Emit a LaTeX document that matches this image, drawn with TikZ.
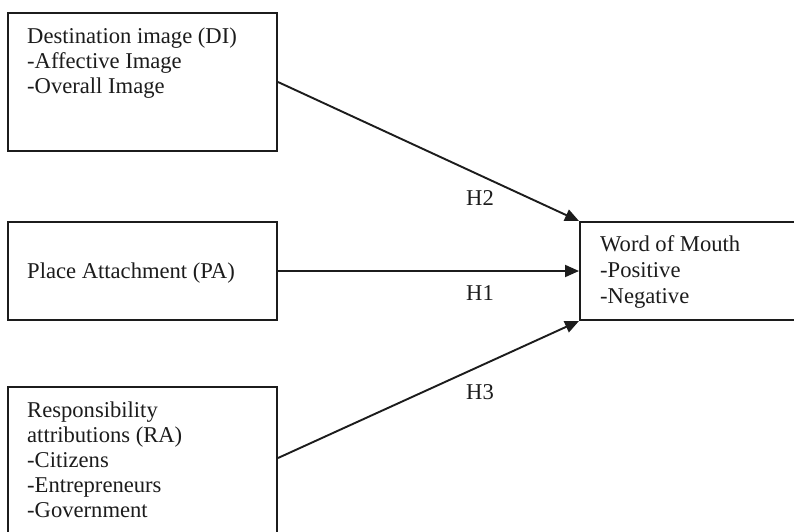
\documentclass[tikz,border=0pt]{standalone}
\usepackage{fontspec}
\setmainfont{Liberation Serif}
\usetikzlibrary{arrows.meta}
\definecolor{ink}{HTML}{1C1C1C}
\tikzset{
  box/.style={draw=ink, line width=2pt, fill=white, inner sep=0pt, anchor=north west},
  txt/.style={inner sep=0pt, anchor=north west, align=left, text=ink, font=\fontsize{22.6}{25}\selectfont},
  hlab/.style={inner sep=0pt, anchor=base, text=ink, font=\fontsize{22.6}{25}\selectfont},
  link/.style={draw=ink, line width=1.9pt, -{Triangle[length=14pt,width=12pt]}}
}
\newcommand{\firstline}{\rule{0pt}{18pt}}
\begin{document}
\begin{tikzpicture}[x=1pt,y=-1pt]
\useasboundingbox (0,0) rectangle (794,532);
\clip (0,0) rectangle (794,532);
\fill[white] (0,0) rectangle (794,532);
% boxes
\node[box, minimum width=269pt, minimum height=138pt] (di) at (7,12) {};
\node[box, minimum width=269pt, minimum height=98pt] (pa) at (7,221) {};
\node[box, minimum width=269pt, minimum height=150pt] (ra) at (7,386) {};
\node[box, minimum width=240pt, minimum height=98pt] (wom) at (579,221) {};
% texts
\node[txt] (ditxt) at (27,25.5) {\firstline Destination image (DI)\\-Affective Image\\-Overall Image};
\node[txt] (patxt) at (27,260) {\firstline Place Attachment (PA)};
\node[txt] (ratxt) at (27,399) {\firstline Responsibility\\attributions (RA)\\-Citizens\\-Entrepreneurs\\-Government};
\node[txt, font=\fontsize{22.6}{26}\selectfont] (womtxt) at (600,233) {\firstline Word of Mouth\\-Positive\\-Negative};
% connectors
\coordinate (raout) at ([yshift=-72pt]ra.north east);
\draw[link] (di.east) -- (wom.north west);
\draw[link] (pa.east) -- (wom.west);
\draw[link] (raout) -- (wom.south west);
% labels
\node[hlab] (h2) at (480,205) {H2};
\node[hlab] (h1) at (480,300) {H1};
\node[hlab] (h3) at (480,399) {H3};
\end{tikzpicture}
\end{document}
